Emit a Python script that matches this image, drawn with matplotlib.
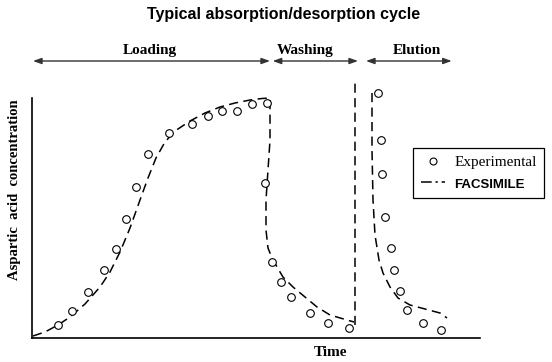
import matplotlib
matplotlib.use("Agg")
import matplotlib.pyplot as plt
from matplotlib.lines import Line2D

# ---- data (arbitrary units: time, concentration) ----
exp_load_t = [26.3, 40.3, 56.3, 72.3, 83.7, 93.7, 104, 116.3, 137.3, 159.7, 176, 190.3, 205.3, 219.7, 234.7]
exp_load_c = [13, 27.3, 45.7, 68, 88.7, 119, 151, 184, 204.7, 213.7, 222.3, 227.3, 227.3, 233.7, 235.3]
exp_wash_t = [233, 240.3, 249, 259, 278, 295.7, 317]
exp_wash_c = [154.7, 76.3, 55.7, 41.3, 25.3, 14.7, 9.7]
exp_elu_t = [346.3, 349, 350.3, 353, 358.7, 362.3, 368, 374.7, 390.7, 409]
exp_elu_c = [244.7, 198, 164, 120.7, 89.7, 68, 47.3, 28, 15.3, 8]

model_lw_t = [1, 13, 26, 38, 53, 68, 78, 88, 98, 108, 116, 124, 133, 143, 158, 173, 188, 203, 218, 230, 238,
              238, 236, 234, 234, 236, 240, 245, 251, 261, 273, 285, 298, 315, 322]
model_lw_c = [2, 6, 13, 21, 34, 51, 66, 86, 110, 138, 160, 180, 196, 207, 217, 225, 231, 235, 238, 239.5, 240,
              198, 168, 138, 108, 90, 80, 71, 61, 51, 41, 31, 23, 18, 16]
model_step_t = [323, 323]
model_step_c = [13, 256]
model_elu_t = [340, 340, 341, 343, 347, 351, 358, 366, 378, 393, 408, 415]
model_elu_c = [245, 188, 138, 103, 78, 65, 51, 40, 33, 29, 25, 20]

phases = ["Loading", "Washing", "Elution"]
phase_start = [1, 240.7, 334]
phase_end = [238, 326, 419.7]
phase_mid = [118, 273, 384.7]

W, H = 552, 362
fig = plt.figure(figsize=(W / 100, H / 100), dpi=100)
ax = fig.add_axes([32 / W, (H - 338) / H, 448 / W, 240 / H])
ax.set_xlim(0, 448)
ax.set_ylim(0, 240)
for s in ["top", "right"]:
    ax.spines[s].set_visible(False)
for s in ["left", "bottom"]:
    ax.spines[s].set_linewidth(1.2)
ax.set_xticks([])
ax.set_yticks([])

dash = (0, (6, 3.5))
lkw = dict(color="black", lw=1.1, linestyle=dash, clip_on=False)
ax.plot(model_lw_t, model_lw_c, **lkw)
ax.plot(model_step_t, model_step_c, **lkw)
ax.plot(model_elu_t, model_elu_c, **lkw)

mkw = dict(linestyle="none", marker="o", markersize=5.5, markerfacecolor="white",
           markeredgecolor="black", markeredgewidth=0.8, clip_on=False, zorder=3)
ax.plot(exp_load_t, exp_load_c, **mkw)
ax.plot(exp_wash_t, exp_wash_c, **mkw)
ax.plot(exp_elu_t, exp_elu_c, **mkw)

# phase arrows
for name, a, b, m in zip(phases, phase_start, phase_end, phase_mid):
    ax.annotate("", xy=(b, 277), xytext=(a, 277), xycoords="data",
                arrowprops=dict(arrowstyle="<|-|>,head_length=0.5,head_width=0.18",
                                color="#333333", lw=1.0, shrinkA=0, shrinkB=0),
                annotation_clip=False)
    ax.text(m, 288, name, ha="center", va="center", fontsize=11,
            family="Liberation Serif", fontweight="bold", clip_on=False)

# legend
h1 = Line2D([], [], linestyle="none", marker="o", markersize=5, markerfacecolor="white",
            markeredgecolor="black", markeredgewidth=0.8)
h2 = Line2D([], [], color="black", lw=1.1, linestyle=(0, (7, 2.5, 1.5, 2.5)))
leg = fig.legend([h1, h2], ["Experimental", "FACSIMILE"],
                 loc="upper left", bbox_to_anchor=(413 / W, 1 - 148 / H), borderaxespad=0,
                 frameon=True, fancybox=False, edgecolor="black", framealpha=1,
                 handlelength=1.6, handletextpad=0.6, borderpad=0.5, labelspacing=0.5,
                 prop={"family": "Liberation Serif", "size": 11})
leg.get_frame().set_linewidth(0.9)
t2 = leg.get_texts()[1]
t2.set_fontfamily("Liberation Sans")
t2.set_fontweight("bold")
t2.set_fontsize(9.5)

fig.text(284 / W, 1 - 15 / H, "Typical absorption/desorption cycle", ha="center", va="center",
         fontsize=11.5, family="Liberation Sans", fontweight="bold")
fig.text(330 / W, 1 - 353 / H, "Time", ha="center", va="center",
         fontsize=11, family="Liberation Serif", fontweight="bold")
fig.text(15 / W, 1 - 190 / H, "Aspartic  acid  concentration", ha="center", va="center",
         rotation=90, fontsize=10.5, family="Liberation Serif", fontweight="bold")

fig.savefig("out.png", dpi=100, facecolor="white")
